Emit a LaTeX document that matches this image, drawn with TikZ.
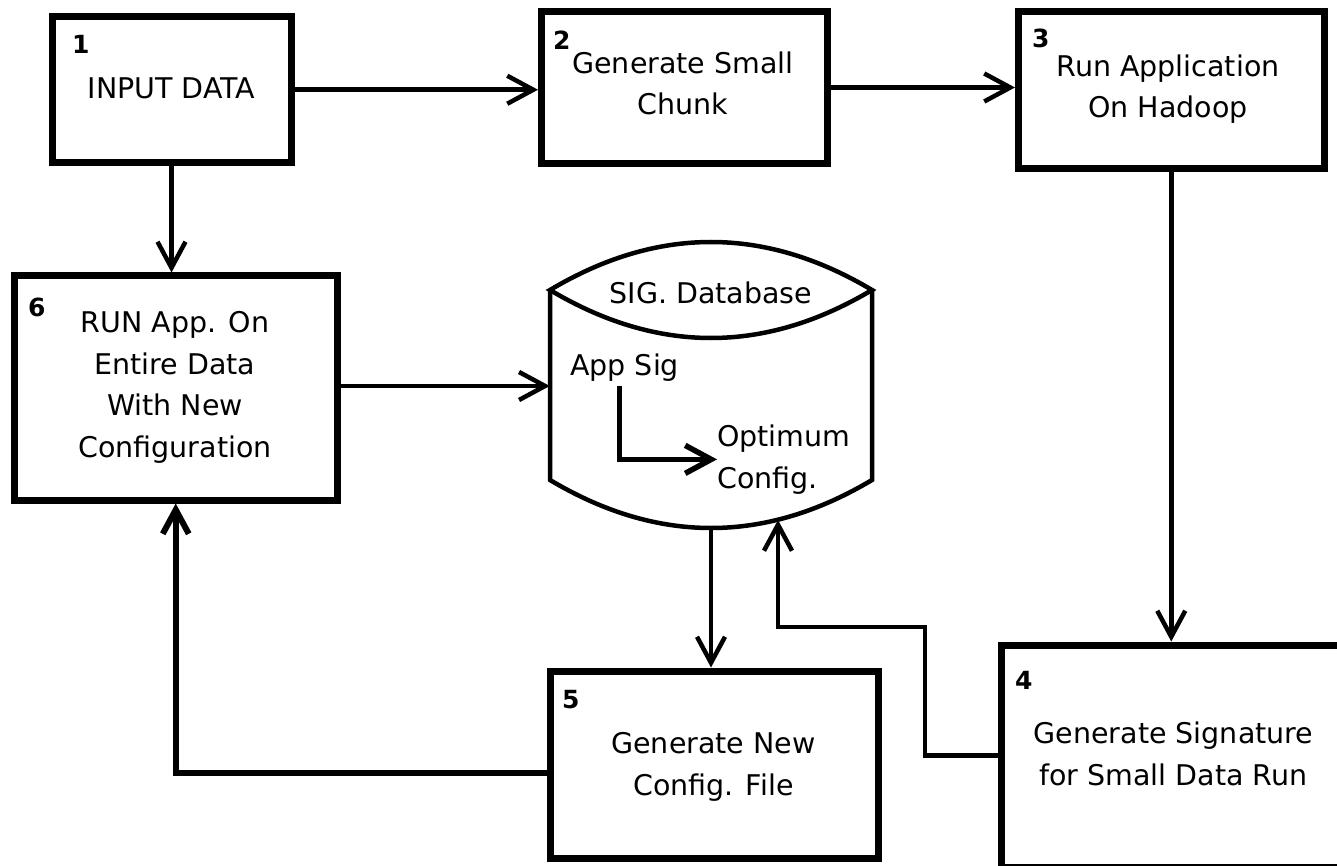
\documentclass[tikz,border=0pt]{standalone}
\usepackage{fontspec}
\setmainfont{DejaVu Sans}
\usetikzlibrary{arrows.meta,calc}
\begin{document}
\begin{tikzpicture}[x=1pt,y=-1pt,
  stepbox/.style={draw, line width=7pt, inner sep=0pt},
  boxtext/.style={font=\fontsize{28.5}{41.5}\selectfont, align=center, inner sep=0pt, anchor=base},
  numtext/.style={font=\fontsize{25}{30}\selectfont\bfseries, inner sep=0pt, anchor=north west},
  barb/.tip={Straight Barb[length=26pt,width=28pt]},
  link/.style={line width=4.5pt, -barb},
  heavylink/.style={line width=6pt, -{Straight Barb[length=24pt,width=26pt]}},
  cyl/.style={line width=4.5pt, line join=miter},
]
\useasboundingbox (0,0) rectangle (1337,866);

% process boxes
\node[stepbox, minimum width=239,   minimum height=146.5] (b1) at (171.5,89.75)   {};
\node[stepbox, minimum width=285.5, minimum height=152]   (b2) at (684.25,87.5)   {};
\node[stepbox, minimum width=305.5, minimum height=157]   (b3) at (1171.25,90)    {};
\node[stepbox, minimum width=322.5, minimum height=224]   (b6) at (175.75,388)    {};
\node[stepbox, minimum width=328.5, minimum height=187]   (b5) at (714.25,764.5)  {};
\node[stepbox, minimum width=344.5, minimum height=222.5] (b4) at (1173.75,756.25) {};

% step numbers
\node[numtext] (n1) at (72,35)    {1};
\node[numtext] (n2) at (553,31)   {2};
\node[numtext] (n3) at (1032,29)  {3};
\node[numtext] (n6) at (28,298)   {6};
\node[numtext] (n5) at (562,690)  {5};
\node[numtext] (n4) at (1015,671) {4};

% box texts (base anchor sits on the last line)
\node[boxtext] (t1) at (171.5,99)   {INPUT DATA};
\node[boxtext] (t2) at (683,115)    {Generate Small\\Chunk};
\node[boxtext] (t3) at (1168,118)   {Run Application\\On Hadoop};
\node[boxtext] (t6) at (175,457)    {RUN App. On\\Entire Data\\With New\\Configuration};
\node[boxtext] (t5) at (713.5,795)  {Generate New\\Config. File};
\node[boxtext] (t4) at (1173.5,785) {Generate Signature\\for Small Data Run};

% signature database cylinder
\draw[cyl] (550,290) .. controls (657.3,226) and (764.7,226) .. (872,290)
           .. controls (764.7,354) and (657.3,354) .. (550,290) -- cycle;
\draw[cyl] (550,290) -- (550,480)
           .. controls (657.3,544) and (764.7,544) .. (872,480) -- (872,290);
\node[inner sep=0pt, minimum width=322, minimum height=285] (db) at (711,384.5) {};
\coordinate (dbin) at (778,520);

\node[boxtext] (dbt) at (711,303) {SIG. Database};
\node[boxtext, anchor=base west] (as) at (570,375) {App Sig};
\node[boxtext, anchor=base west, align=left] (oc) at (717,488) {Optimum\\Config.};
\draw[line width=5.5pt, -barb, shorten <=5pt] ([xshift=-5pt]as.south) |- (oc.west);

% flow connectors
\draw[link] (b1.east) -- (b1.east -| b2.west);
\draw[link] (b2.east) -- (b2.east -| b3.west);
\draw[link] (b3.south) -- (b3.south |- b4.north);
\draw[link] (b1.south) -- (b1.south |- b6.north);
\draw[link] ([yshift=2pt]b6.east) -- ([yshift=2pt]b6.east -| db.west);
\draw[link] (db.south) -- (db.south |- b5.north);
\draw[link] ([yshift=1pt]b4.west) -| (925,627) -| (dbin);
\draw[heavylink] ([yshift=-8.5pt]b5.west) -| (b6.south);
\end{tikzpicture}
\end{document}
